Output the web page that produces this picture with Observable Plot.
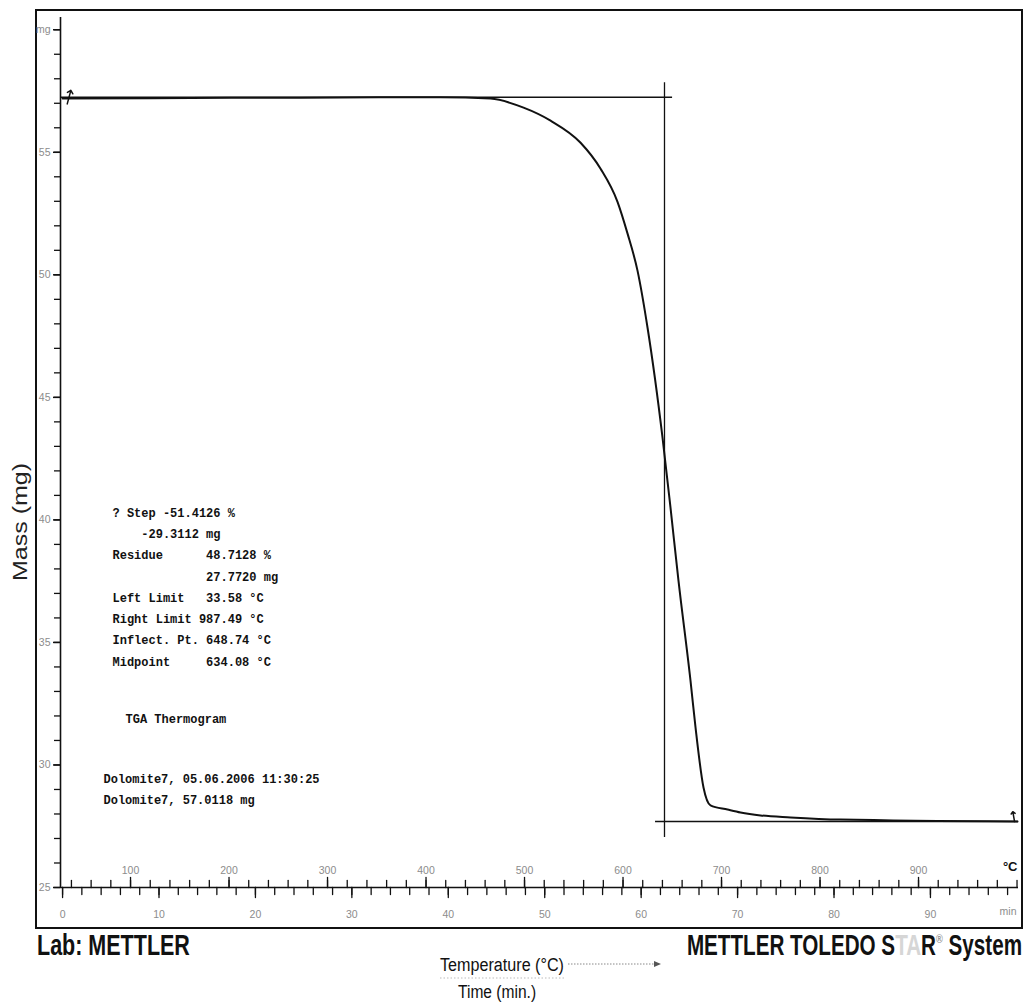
<!DOCTYPE html>
<html>
<head>
<meta charset="utf-8">
<script src="https://cdn.jsdelivr.net/npm/d3@7"></script>
<script src="https://cdn.jsdelivr.net/npm/@observablehq/plot@0.6"></script>
<style>
  html, body { margin: 0; padding: 0; background: #fff; }
  body { width: 1025px; height: 1004px; position: relative; overflow: hidden; font-family: "Liberation Sans", Arial, sans-serif; }
  #deco { position: absolute; left: 0; top: 0; }
  #frame { position: absolute; left: 35px; top: 9px; width: 988px; height: 920px; box-sizing: border-box; border: 2px solid #111; }
  #chart { position: absolute; left: 0; top: 0; }
  #chart text, #chart tspan { white-space: pre; }
</style>
</head>
<body>
<svg id="deco" width="1025" height="1004" font-family="'Liberation Sans', Arial, sans-serif">
  <text transform="translate(27,522) rotate(-90) scale(1.25,1)" text-anchor="middle" font-size="20" fill="#222">Mass (mg)</text>
  <text transform="translate(37,955) scale(0.742,1)" font-size="29" font-weight="bold" fill="#111">Lab: METTLER</text>
  <text transform="translate(1022,955) scale(0.712,1)" text-anchor="end" font-size="29" font-weight="bold" fill="#111">METTLER TOLEDO S<tspan fill="#d6d6d6">TA</tspan>R<tspan font-size="13" dy="-12" fill="#999">®</tspan><tspan dy="12"> System</tspan></text>
  <text transform="translate(440,971) scale(0.85,1)" font-size="19" fill="#111">Temperature (°C)</text>
  <line x1="568" y1="964" x2="655" y2="964" stroke="#888" stroke-width="1" stroke-dasharray="1.5,1.5"/>
  <path d="M654,961 L661,964 L654,967 Z" fill="#555"/>
  <line x1="440" y1="978" x2="566" y2="978" stroke="#bbb" stroke-width="1" stroke-dasharray="1.5,2"/>
  <text transform="translate(458,998) scale(0.82,1)" font-size="19" fill="#111">Time (min.)</text>
</svg>
<div id="frame"><div id="chart"></div></div>
<script>
// ---- data ----
const curveTemp = [31.0, 120.3, 272.6, 414.7, 465.5, 499.0, 526.4, 556.9, 577.2, 594.4, 604.6, 614.7, 624.9, 640.1, 648.2, 656.3, 668.5, 673.6, 681.7, 688.8, 706.1, 719.3, 739.6, 770.1, 820.8, 1000.5];
const curveMass = [57.19, 57.21, 57.23, 57.25, 57.19, 56.82, 56.29, 55.39, 54.33, 52.98, 51.68, 50.17, 47.84, 43.36, 40.50, 37.52, 33.44, 31.53, 29.08, 28.35, 28.18, 28.06, 27.94, 27.86, 27.77, 27.69];

const massMajorTicks = [25, 30, 35, 40, 45, 50, 55, 60];
const massMinorTicks = d3.range(25, 61, 1);
const tempLabels = [100, 200, 300, 400, 500, 600, 700, 800, 900];
const tempMinorTicks = d3.range(40, 1001, 20);
const timeLabels = [0, 10, 20, 30, 40, 50, 60, 70, 80, 90];
const timeMinorTicks = d3.range(0, 99, 2);

// temperature program: T = startTemp + rate * t
const startTemp = 31.0;
const heatingRate = 9.79;

// step evaluation construction
const upperLevel = 57.25;
const lowerLevel = 27.69;
const stepTemp = 642.1;
const upperLineEnd = 650.3;
const lowerLineStart = 633.0;
const stepLineTop = 57.84;
const stepLineBottom = 27.04;
const leftLimit = 33.58;
const rightLimit = 987.49;

const resultLines = [
  "? Step -51.4126 %",
  "    -29.3112 mg",
  "Residue      48.7128 %",
  "             27.7720 mg",
  "Left Limit   33.58 °C",
  "Right Limit 987.49 °C",
  "Inflect. Pt. 648.74 °C",
  "Midpoint     634.08 °C"
];
const titleLines = ["TGA Thermogram"];
const sampleLines = ["Dolomite7, 05.06.2006 11:30:25", "Dolomite7, 57.0118 mg"];

const tempDomain = [28.9, 1001.5];
const massDomain = [25, 60.5];

// ---- build ----
const curve = curveTemp.map((T, i) => ({T, mass: curveMass[i]}));
const toTemp = t => startTemp + heatingRate * t;
const pre = s => s.replace(/ /g, "\u00A0");
const tickShape = {draw(context, l) { context.moveTo(0, 0); context.lineTo(0, -l); }};
const mono = "'Liberation Mono', 'DejaVu Sans Mono', monospace";
const gray = "#8c8c8c";

const chart = Plot.plot({
  width: 984,
  height: 916,
  marginLeft: 23,
  marginTop: 6,
  marginRight: 3,
  marginBottom: 40,
  style: {background: "transparent", fontFamily: "'Liberation Sans', Arial, sans-serif", overflow: "visible", color: "#111"},
  x: {domain: tempDomain, axis: null},
  y: {domain: massDomain},
  marks: [
    Plot.ruleX([tempDomain[0]], {stroke: "#111", strokeWidth: 1.6}),
    Plot.ruleY([massDomain[0]], {stroke: "#111", strokeWidth: 1.6}),
    Plot.axisY(massMinorTicks, {tickSize: 6, tickFormat: () => "", label: null, strokeWidth: 1.3}),
    Plot.axisY(massMajorTicks, {tickSize: 7, tickPadding: 3, tickFormat: d => d === 60 ? "mg" : `${d}`, fill: gray, fontSize: 10.5, label: null, strokeWidth: 1.5}),
    // temperature ticks (above the axis)
    Plot.vector(tempMinorTicks, {x: d => d, y: () => massDomain[0], length: 7, rotate: 0, anchor: "start", shape: tickShape, strokeWidth: 1.3}),
    Plot.vector(tempLabels, {x: d => d, y: () => massDomain[0], length: 10, rotate: 0, anchor: "start", shape: tickShape, strokeWidth: 1.3}),
    // time ticks (below the axis)
    Plot.vector(timeMinorTicks, {x: toTemp, y: () => massDomain[0], length: 7, rotate: 180, anchor: "start", shape: tickShape, strokeWidth: 1.3}),
    Plot.vector(timeLabels, {x: toTemp, y: () => massDomain[0], length: 10, rotate: 180, anchor: "start", shape: tickShape, strokeWidth: 1.3}),
    Plot.text(tempLabels, {x: d => d, y: () => massDomain[0], dy: -17, text: d => `${d}`, fill: gray, fontSize: 10.5}),
    Plot.text(["°C"], {frameAnchor: "bottom-right", text: d => d, dy: -17, dx: -1, textAnchor: "end", fontSize: 13, fontWeight: "bold", fill: "#111"}),
    Plot.text(timeLabels, {x: toTemp, y: () => massDomain[0], dy: 27, text: d => `${d}`, fill: gray, fontSize: 10.5}),
    Plot.text(["min"], {frameAnchor: "bottom-right", text: d => d, dy: 27, dx: -2, textAnchor: "end", fontSize: 10.5, fill: gray}),
    // step construction lines
    Plot.ruleY([upperLevel], {x1: () => tempDomain[0], x2: () => upperLineEnd, stroke: "#111", strokeWidth: 1.5}),
    Plot.ruleY([lowerLevel], {x1: () => lowerLineStart, x2: () => tempDomain[1], stroke: "#111", strokeWidth: 1.5}),
    Plot.ruleX([stepTemp], {y1: () => stepLineBottom, y2: () => stepLineTop, stroke: "#111", strokeWidth: 1.3}),
    // TGA curve
    Plot.line(curve, {x: "T", y: "mass", curve: "monotone-x", stroke: "#111", strokeWidth: 2}),
    // limit markers
    Plot.vector([leftLimit], {x: d => d + 4, y: () => upperLevel, length: 14, rotate: 15, anchor: "middle", stroke: "#111", strokeWidth: 1.5}),
    Plot.vector([rightLimit], {x: d => d + 10, y: () => lowerLevel, length: 10, rotate: -10, anchor: "start", stroke: "#111", strokeWidth: 1.5}),
    // evaluation text
    Plot.text([resultLines.join("\n")], {frameAnchor: "top-left", text: d => pre(d), dx: 52, dy: 484, lineAnchor: "top", textAnchor: "start", fontFamily: mono, fontWeight: "bold", fontSize: 12, lineHeight: 1.775, fill: "#111"}),
    Plot.text([titleLines.join("\n")], {frameAnchor: "top-left", text: d => pre(d), dx: 65, dy: 697, lineAnchor: "top", textAnchor: "start", fontFamily: mono, fontWeight: "bold", fontSize: 12, fill: "#111"}),
    Plot.text([sampleLines.join("\n")], {frameAnchor: "top-left", text: d => pre(d), dx: 43, dy: 750, lineAnchor: "top", textAnchor: "start", fontFamily: mono, fontWeight: "bold", fontSize: 12, lineHeight: 1.8, fill: "#111"})
  ]
});
document.getElementById("chart").appendChild(chart);
</script>
</body>
</html>
